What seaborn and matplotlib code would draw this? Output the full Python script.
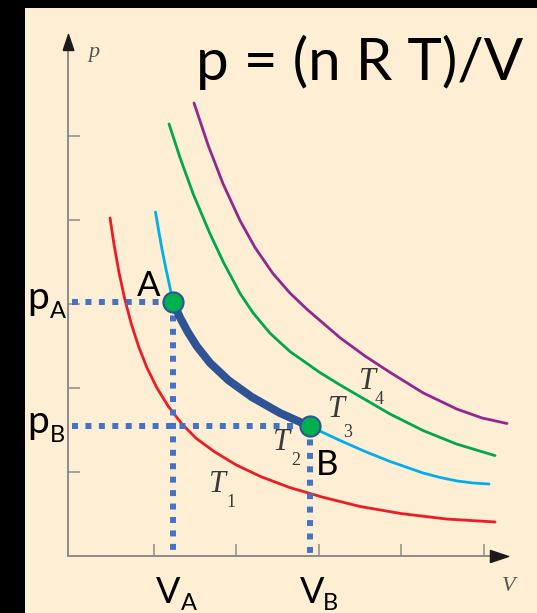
import matplotlib
matplotlib.use("Agg")
import matplotlib.pyplot as plt
import seaborn as sns
import pandas as pd

# Isotherm samples (volume, pressure) in axis units
t1_V = [0.473, 0.52, 0.58, 0.65, 0.73, 0.82, 0.92, 1.04, 1.18, 1.34, 1.52, 1.74, 2.0, 2.3, 2.65,
        3.05, 3.5, 4.0, 4.55, 5.139]
t1_p = [4.025, 3.716, 3.385, 3.065, 2.766, 2.492, 2.243, 2.003, 1.780, 1.577, 1.398, 1.240, 1.085,
        0.945, 0.815, 0.700, 0.590, 0.505, 0.440, 0.405]

t2_V = [1.024, 1.061, 1.103, 1.152, 1.194, 1.236, 1.321, 1.410, 1.524, 1.685, 1.907, 2.190, 2.533,
        2.897, 3.261, 3.564, 3.867, 4.267, 4.473, 4.679, 4.873, 5.067]
t2_p = [4.095, 3.881, 3.649, 3.411, 3.220, 3.024, 2.840, 2.676, 2.498, 2.298, 2.093, 1.893, 1.702,
        1.542, 1.375, 1.244, 1.125, 0.988, 0.935, 0.893, 0.869, 0.857]

t3_V = [1.188, 1.321, 1.482, 1.685, 1.846, 2.048, 2.206, 2.412, 2.655, 3.018, 3.261, 3.867, 4.270,
        4.675, 5.139]
t3_p = [5.143, 4.743, 4.307, 3.835, 3.499, 3.127, 2.895, 2.652, 2.433, 2.183, 2.036, 1.690, 1.492,
        1.332, 1.195]

t4_V = [1.491, 1.661, 1.842, 2.048, 2.230, 2.448, 2.655, 2.861, 3.261, 3.564, 3.867, 4.267, 4.679,
        4.982, 5.285]
t4_p = [5.393, 4.893, 4.433, 3.994, 3.673, 3.362, 3.129, 2.936, 2.598, 2.380, 2.186, 1.942, 1.748,
        1.643, 1.577]

iso_names = ["T1", "T2", "T3", "T4"]
iso_colors = ["#ED1C24", "#00AEEF", "#00A651", "#92278F"]

# States A and B on the T2 isotherm
state_names = ["A", "B"]
state_V = [1.236, 2.897]
state_p = [3.024, 1.542]

title_text = "p = (n R T)/V"

BG = "#FEEED3"
AXIS_GREY = "#8C8C8C"
DOT_BLUE = "#4472C4"
PATH_BLUE = "#2F5496"

frames = []
for name, V, p in zip(iso_names, [t1_V, t2_V, t3_V, t4_V], [t1_p, t2_p, t3_p, t4_p]):
    frames.append(pd.DataFrame({"V": V, "p": p, "isotherm": name}))
iso_df = pd.concat(frames, ignore_index=True)

# Process A -> B follows the T2 samples between the two states
path_df = pd.DataFrame({"V": t2_V, "p": t2_p})
path_df = path_df[(path_df.V >= state_V[0]) & (path_df.V <= state_V[1])]

states_df = pd.DataFrame({"V": state_V, "p": state_p, "state": state_names})

fig = plt.figure(figsize=(5.37, 6.13), dpi=100, facecolor="black")
ax = fig.add_axes([25 / 537, 0, 512 / 537, 605 / 613])
ax.set_facecolor(BG)

ax.set_xlim(-0.5576, 5.648)
ax.set_ylim(-0.679, 6.524)

x0 = -0.036  # position of the vertical axis

# isotherms
sns.lineplot(data=iso_df, x="V", y="p", hue="isotherm", palette=dict(zip(iso_names, iso_colors)),
             estimator=None, sort=False, linewidth=2.0, legend=False, ax=ax, zorder=2)
for line in ax.lines:
    line.set_solid_joinstyle("round")
    line.set_solid_capstyle("round")

# process path
sns.lineplot(data=path_df, x="V", y="p", color=PATH_BLUE, estimator=None, sort=False,
             linewidth=5.8, ax=ax, zorder=4)
ax.lines[-1].set_solid_joinstyle("round")

# dotted guides to the axes
for V, p in zip(state_V, state_p):
    ax.plot([x0 + 0.05, V], [p, p], color=DOT_BLUE, linewidth=4.3, linestyle=(0, (1, 1.25)), zorder=3)
    ax.plot([V, V], [p, 0.02], color=DOT_BLUE, linewidth=4.3, linestyle=(0, (1, 1.25)), zorder=3)

# states
sns.scatterplot(data=states_df, x="V", y="p", color="#00B050", edgecolor=PATH_BLUE, linewidth=1.5,
                s=14.5 ** 2, ax=ax, zorder=6, legend=False)

# axes with arrows
for side in ["top", "right"]:
    ax.spines[side].set_visible(False)
ax.spines["left"].set_position(("data", x0))
ax.spines["bottom"].set_position(("data", 0))
ax.spines["left"].set_bounds(0, 6.05)
ax.spines["bottom"].set_bounds(x0, 5.08)
for side in ["left", "bottom"]:
    ax.spines[side].set_color(AXIS_GREY)
    ax.spines[side].set_linewidth(1.4)
ax.set_xticks([1, 2, 3, 4, 5])
ax.set_yticks([1, 2, 3, 4, 5])
ax.tick_params(direction="in", length=8.5, width=1.1, color=AXIS_GREY,
               labelbottom=False, labelleft=False)
ax.set_xlabel("")
ax.set_ylabel("")

x_head = [(-1.5, -1.0), (1.5, 0.0), (-1.5, 1.0), (-1.5, -1.0)]
y_head = [(-1.0, -1.5), (0.0, 1.5), (1.0, -1.5), (-1.0, -1.5)]
ax.plot([5.188], [0], marker=x_head, markersize=13, color="#1A1A1A", clip_on=False, zorder=5)
ax.plot([x0], [6.119], marker=y_head, markersize=11.5, color="#1A1A1A", clip_on=False, zorder=5)

serif_it = dict(family="Liberation Serif", style="italic", color="#555555")
ax.text(0.279, 6.0, "p", fontsize=16, ha="center", va="center", **serif_it)
ax.text(5.309, -0.369, "V", fontsize=16, ha="center", va="center", **serif_it)

# isotherm labels
t_lab = dict(family="Liberation Serif", style="italic", color="#3A3A3A")
t_sub = dict(family="Liberation Serif", color="#3A3A3A")
for (tx, ty), (sx, sy), digit in zip(
        [(1.775, 0.855), (2.551, 1.355), (3.217, 1.748), (3.593, 2.081)],
        [(1.94, 0.633), (2.728, 1.133), (3.358, 1.466), (3.734, 1.859)],
        ["1", "2", "3", "4"]):
    ax.text(tx, ty, "T", fontsize=22, ha="center", va="center", **t_lab)
    ax.text(sx, sy, digit, fontsize=13, ha="center", va="center", **t_sub)

sans = dict(family="Lato", color="black")
ax.text(3.503, 5.881, title_text, fontsize=42, ha="center", va="center", **sans)

# state letters
ax.text(0.939, 3.22, state_names[0], fontsize=25, ha="center", va="center", **sans)
ax.text(3.103, 1.089, state_names[1], fontsize=25, ha="center", va="center", **sans)

# axis value labels
for p, name in zip(state_p, state_names):
    ax.text(-0.40, p - 0.083, "p", fontsize=28, ha="center", va="baseline", **sans)
    ax.text(-0.164, p - 0.19, name, fontsize=17, ha="center", va="baseline", **sans)
for name, vx, sx in zip(state_names, [1.18, 2.927], [1.43, 3.15]):
    ax.text(vx, -0.56, "V", fontsize=26, ha="center", va="baseline", **sans)
    ax.text(sx, -0.643, name, fontsize=17, ha="center", va="baseline", **sans)

fig.savefig("out.png", dpi=100, facecolor="black")
